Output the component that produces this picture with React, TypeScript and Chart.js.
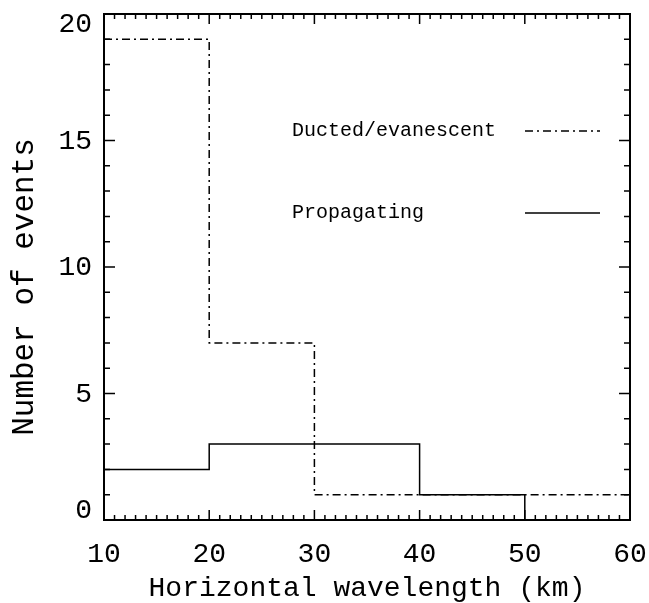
import React, { useEffect, useRef } from "react";
import { Chart, registerables } from "chart.js";

Chart.register(...registerables);

// ---- data ----
const binEdges = [10, 20, 30, 40, 50, 60];
const ductedCounts = [19, 7, 1, 1, 1];
const propagatingCounts = [2, 3, 3, 1, 0];
const xTickValues = [10, 20, 30, 40, 50, 60];
const yTickValues = [0, 5, 10, 15, 20];
const seriesNames = ["Ducted/evanescent", "Propagating"];
const xTitle = "Horizontal wavelength (km)";
const yTitle = "Number of events";

const FONT = "'Liberation Mono', 'DejaVu Sans Mono', monospace";

function stepPoints(edges: number[], counts: number[]) {
  const pts = counts.map((c, i) => ({ x: edges[i], y: c }));
  pts.push({ x: edges[edges.length - 1], y: counts[counts.length - 1] });
  return pts;
}

const framePlugin = {
  id: "frame",
  afterDraw(chart: any) {
    const { ctx, chartArea } = chart;
    const { left, right, top, bottom } = chartArea;
    const xs = chart.scales.x;
    const ys = chart.scales.y;
    ctx.save();
    ctx.strokeStyle = "#000";
    ctx.fillStyle = "#000";
    // box
    ctx.lineWidth = 2;
    ctx.strokeRect(left, top, right - left, bottom - top);
    // ticks
    ctx.lineWidth = 1.5;
    ctx.beginPath();
    for (let v = xs.min; v <= xs.max + 1e-9; v += 1) {
      const px = xs.getPixelForValue(v);
      const len = Math.abs(v % 10) < 1e-9 ? 10 : 5;
      ctx.moveTo(px, bottom);
      ctx.lineTo(px, bottom - len);
      ctx.moveTo(px, top);
      ctx.lineTo(px, top + len);
    }
    for (let v = ys.min; v <= ys.max + 1e-9; v += 1) {
      const py = ys.getPixelForValue(v);
      const len = Math.abs(v % 5) < 1e-9 ? 11 : 6;
      ctx.moveTo(left, py);
      ctx.lineTo(left + len, py);
      ctx.moveTo(right, py);
      ctx.lineTo(right - len, py);
    }
    ctx.stroke();

    // y tick labels
    ctx.font = `28px ${FONT}`;
    ctx.textAlign = "right";
    ctx.textBaseline = "middle";
    yTickValues.forEach((v) => {
      let py = ys.getPixelForValue(v);
      if (v === ys.min) py -= 10;
      if (v === ys.max) py += 10;
      ctx.fillText(String(v), left - 12, py + 1);
    });

    // axis titles
    ctx.textAlign = "center";
    ctx.textBaseline = "alphabetic";
    ctx.font = `28px ${FONT}`;
    ctx.fillText(xTitle, (left + right) / 2, 596);
    ctx.save();
    ctx.translate(33, 287);
    ctx.rotate(-Math.PI / 2);
    ctx.font = `31px ${FONT}`;
    ctx.fillText(yTitle, 0, 0);
    ctx.restore();

    // legend
    ctx.font = `20px ${FONT}`;
    ctx.textAlign = "left";
    ctx.textBaseline = "middle";
    const legendY = [131, 213];
    chart.data.datasets.forEach((ds: any, i: number) => {
      const y = legendY[i];
      ctx.fillText(seriesNames[i], 292, y);
      ctx.beginPath();
      ctx.lineWidth = 1.5;
      ctx.setLineDash(ds.borderDash || []);
      ctx.moveTo(525, y);
      ctx.lineTo(600, y);
      ctx.stroke();
      ctx.setLineDash([]);
    });
    ctx.restore();
  },
};

export default function App() {
  const ref = useRef<HTMLCanvasElement>(null);
  useEffect(() => {
    document.body.style.margin = "0";
    const chart = new Chart(ref.current!, {
      type: "line",
      data: {
        datasets: [
          {
            label: seriesNames[0],
            data: stepPoints(binEdges, ductedCounts),
            stepped: "before",
            borderColor: "#000",
            borderWidth: 1.5,
            borderDash: [8, 4, 2, 4],
            pointRadius: 0,
            fill: false,
          },
          {
            label: seriesNames[1],
            data: stepPoints(binEdges, propagatingCounts),
            stepped: "before",
            borderColor: "#000",
            borderWidth: 1.5,
            pointRadius: 0,
            fill: false,
          },
        ],
      },
      options: {
        animation: false,
        responsive: false,
        devicePixelRatio: 1,
        layout: { padding: { top: 14, right: 19, left: 0, bottom: 0 } },
        plugins: { legend: { display: false }, tooltip: { enabled: false } },
        scales: {
          x: {
            type: "linear",
            min: 10,
            max: 60,
            afterFit: (s: any) => {
              s.height = 83;
              s.paddingLeft = 0;
              s.paddingRight = 0;
            },
            afterBuildTicks: (s: any) => {
              s.ticks = xTickValues.map((v) => ({ value: v }));
            },
            grid: { display: false, drawTicks: false },
            border: { display: false },
            ticks: {
              color: "#000",
              font: { family: FONT, size: 28 },
              padding: 18,
              maxRotation: 0,
            },
          },
          y: {
            type: "linear",
            min: 0,
            max: 20,
            afterFit: (s: any) => {
              s.width = 104;
              s.paddingTop = 0;
              s.paddingBottom = 0;
            },
            afterBuildTicks: (s: any) => {
              s.ticks = yTickValues.map((v) => ({ value: v }));
            },
            grid: { display: false, drawTicks: false },
            border: { display: false },
            ticks: { display: false },
          },
        },
      },
      plugins: [framePlugin],
    });
    return () => chart.destroy();
  }, []);
  return (
    <div style={{ width: 649, height: 603, background: "#fff" }}>
      <canvas ref={ref} width={649} height={603} style={{ display: "block" }} />
    </div>
  );
}
